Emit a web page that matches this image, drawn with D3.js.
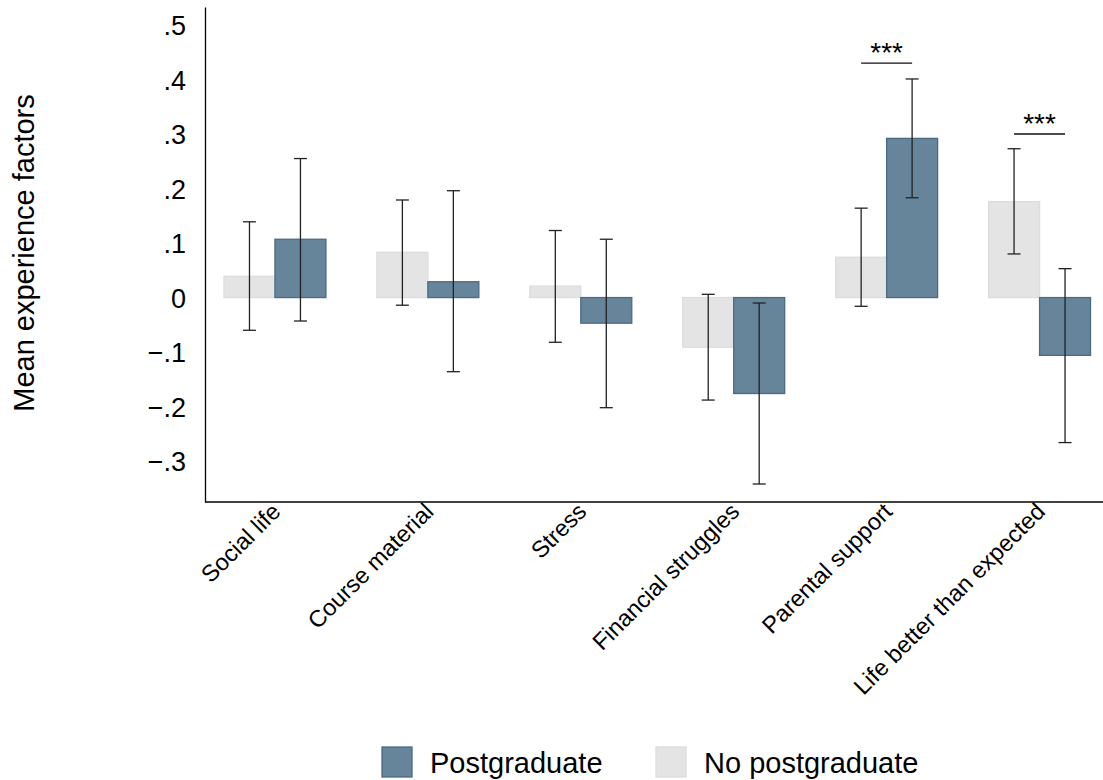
<!DOCTYPE html>
<html>
<head>
<meta charset="utf-8">
<script src="https://cdnjs.cloudflare.com/ajax/libs/d3/7.8.5/d3.min.js"></script>
<style>
  body { margin: 0; background: #fff; }
  text { font-family: "Liberation Sans", Arial, sans-serif; fill: #000; }
</style>
</head>
<body>
<script>
// factors on the x axis
var categories = ["Social life", "Course material", "Stress", "Financial struggles",
                  "Parental support", "Life better than expected"];

// mean values and 95% CI bounds
var noPostMean = [0.039, 0.083, 0.021, -0.091, 0.074, 0.176];
var noPostLow  = [-0.060, -0.014, -0.082, -0.188, -0.016, 0.080];
var noPostHigh = [0.139, 0.179, 0.123, 0.006, 0.164, 0.273];

var postMean = [0.107, 0.029, -0.047, -0.176, 0.292, -0.106];
var postLow  = [-0.043, -0.136, -0.202, -0.342, 0.183, -0.266];
var postHigh = [0.255, 0.196, 0.107, -0.010, 0.401, 0.053];

// significance brackets: category and level of the bar line
var sigCats   = ["Parental support", "Life better than expected"];
var sigLevels = [0.43, 0.30];
var sigLabels = ["***", "***"];

var yTicks = [0.5, 0.4, 0.3, 0.2, 0.1, 0, -0.1, -0.2, -0.3];
var legendLabels = ["Postgraduate", "No postgraduate"];

var W = 1103, H = 780,
    axisX = 205, axisTop = 7, axisBottom = 502;

var blue = "#66849a", blueLine = "#4b6b83",
    grey = "#e4e4e4", greyLine = "#dcdcdc";

var svg = d3.select("body").append("svg")
            .attr("width", W)
            .attr("height", H);

var x = d3.scaleBand()
          .domain(categories)
          .range([198.5, 1116])
          .paddingInner(1 / 3)
          .paddingOuter(1 / 6);

var series = ["nopost", "post"];
var xs = d3.scaleBand().domain(series).range([0, x.bandwidth()]);

var y = d3.scaleLinear()
          .domain([-0.375, 0.533])
          .range([axisBottom, axisTop]);

var fmt = function(d) {
  if (d === 0) return "0";
  var s = d3.format(".1f")(Math.abs(d)).replace(/^0/, "");
  return (d < 0 ? "\u2212" : "") + s;
};

// rows for drawing
var rows = [];
categories.forEach(function(c, i) {
  rows.push({ cat: c, s: "nopost", m: noPostMean[i], lo: noPostLow[i], hi: noPostHigh[i] });
  rows.push({ cat: c, s: "post", m: postMean[i], lo: postLow[i], hi: postHigh[i] });
});

// bars
svg.append("g").selectAll("rect")
   .data(rows)
   .enter()
   .append("rect")
   .attr("x", function(d) { return x(d.cat) + xs(d.s); })
   .attr("y", function(d) { return y(Math.max(0, d.m)); })
   .attr("width", xs.bandwidth())
   .attr("height", function(d) { return Math.abs(y(d.m) - y(0)); })
   .attr("fill", function(d) { return d.s === "post" ? blue : grey; })
   .attr("stroke", function(d) { return d.s === "post" ? blueLine : greyLine; })
   .attr("stroke-width", 1.3);

// error bars
var cap = 13;
var eb = svg.append("g").selectAll("g")
            .data(rows)
            .enter()
            .append("g")
            .attr("stroke", "#222")
            .attr("stroke-width", 1.3);

eb.append("line")
  .attr("x1", function(d) { return x(d.cat) + xs(d.s) + xs.bandwidth() / 2; })
  .attr("x2", function(d) { return x(d.cat) + xs(d.s) + xs.bandwidth() / 2; })
  .attr("y1", function(d) { return y(d.lo); })
  .attr("y2", function(d) { return y(d.hi); });

["lo", "hi"].forEach(function(k) {
  eb.append("line")
    .attr("x1", function(d) { return x(d.cat) + xs(d.s) + xs.bandwidth() / 2 - cap / 2; })
    .attr("x2", function(d) { return x(d.cat) + xs(d.s) + xs.bandwidth() / 2 + cap / 2; })
    .attr("y1", function(d) { return y(d[k]); })
    .attr("y2", function(d) { return y(d[k]); });
});

// significance marks
var sig = svg.append("g").selectAll("g")
             .data(sigCats)
             .enter()
             .append("g");

sig.append("line")
   .attr("x1", function(d) { return x(d) + xs.bandwidth() / 2; })
   .attr("x2", function(d) { return x(d) + xs("post") + xs.bandwidth() / 2; })
   .attr("y1", function(d, i) { return y(sigLevels[i]); })
   .attr("y2", function(d, i) { return y(sigLevels[i]); })
   .attr("stroke", "#111")
   .attr("stroke-width", 1.3);

sig.append("text")
   .attr("x", function(d) { return x(d) + x.bandwidth() / 2; })
   .attr("y", function(d, i) { return y(sigLevels[i]) - 1; })
   .attr("text-anchor", "middle")
   .attr("font-size", "28px")
   .text(function(d, i) { return sigLabels[i]; });

// y axis
var yAxis = svg.append("g")
               .attr("transform", "translate(" + axisX + ",0)")
               .call(d3.axisLeft(y).tickValues(yTicks).tickSize(0).tickPadding(19).tickFormat(fmt));
yAxis.select(".domain").attr("stroke", "#000").attr("stroke-width", 1.3);
yAxis.selectAll("text").attr("font-size", "27px").attr("dy", "0.36em")
     .style("font-family", "'Liberation Sans', Arial, sans-serif");

// x axis
var xAxis = svg.append("g")
               .attr("transform", "translate(0," + axisBottom + ")")
               .call(d3.axisBottom(x).tickSize(0).tickFormat(""));
xAxis.select(".domain")
     .attr("d", "M" + axisX + ",0H" + 1103)
     .attr("stroke", "#000").attr("stroke-width", 1.3);

svg.append("g").selectAll("text")
   .data(categories)
   .enter()
   .append("text")
   .attr("transform", function(d) {
     return "translate(" + (x(d) + x.bandwidth() / 2 + 7) + "," + (axisBottom + 11) + ") rotate(-45)";
   })
   .attr("text-anchor", "end")
   .attr("font-size", "23.5px")
   .text(function(d) { return d; });

// y title
svg.append("text")
   .attr("transform", "translate(34,253) rotate(-90)")
   .attr("text-anchor", "middle")
   .attr("font-size", "29px")
   .text("Mean experience factors");

// legend
var legend = svg.append("g").selectAll("g")
                .data(legendLabels)
                .enter()
                .append("g")
                .attr("transform", function(d, i) { return "translate(" + (382 + i * 274) + ",747)"; });

legend.append("rect")
      .attr("width", 30)
      .attr("height", 30)
      .attr("fill", function(d, i) { return i === 0 ? blue : grey; })
      .attr("stroke", function(d, i) { return i === 0 ? blueLine : greyLine; })
      .attr("stroke-width", 1.3);

legend.append("text")
      .attr("x", 48)
      .attr("y", 26)
      .attr("font-size", "29px")
      .text(function(d) { return d; });
</script>
</body>
</html>
